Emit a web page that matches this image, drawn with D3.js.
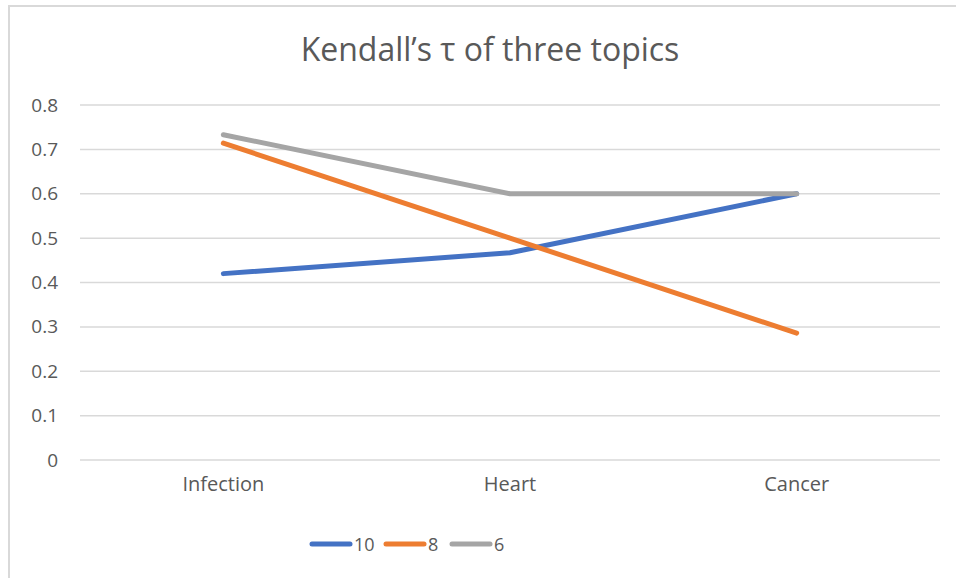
<!DOCTYPE html>
<html>
<head>
<meta charset="utf-8">
<script src="https://cdn.jsdelivr.net/npm/d3@7"></script>
<style>
  body { margin: 0; background: #fff; }
  text { font-family: "Open Sans", "Liberation Sans", sans-serif; fill: #595959; }
</style>
</head>
<body>
<svg id="chart" width="956" height="578"></svg>
<script>
// chart data
var categories = ["Infection", "Heart", "Cancer"];
var seriesNames = ["10", "8", "6"];
var seriesColors = ["#4472C4", "#ED7D31", "#A5A5A5"];
var values10 = [0.42, 0.467, 0.6];
var values8 = [0.714, 0.5, 0.286];
var values6 = [0.733, 0.6, 0.6];
var yTicks = [0, 0.1, 0.2, 0.3, 0.4, 0.5, 0.6, 0.7, 0.8];

(function() {
  var series = [values10, values8, values6].map(function(v, i) {
    return { name: seriesNames[i], color: seriesColors[i], values: v };
  });

  var svg = d3.select("#chart");

  // outer frame (only top/left visible in the crop)
  svg.append("rect")
    .attr("x", 9).attr("y", 6)
    .attr("width", 1000).attr("height", 1000)
    .attr("fill", "none")
    .attr("stroke", "#d9d9d9")
    .attr("stroke-width", 2);

  var plotLeft = 80, plotRight = 940, plotTop = 105, plotBottom = 460;

  var x = d3.scaleBand().domain(categories).range([plotLeft, plotRight]);
  var y = d3.scaleLinear().domain([0, 0.8]).range([plotBottom, plotTop]);

  // gridlines
  svg.append("g")
    .selectAll("line")
    .data(yTicks)
    .enter().append("line")
      .attr("x1", plotLeft).attr("x2", plotRight)
      .attr("y1", function(d) { return y(d); })
      .attr("y2", function(d) { return y(d); })
      .attr("stroke", "#d9d9d9")
      .attr("stroke-width", 1.5);

  // y axis labels
  var yAxis = d3.axisLeft(y).tickValues(yTicks).tickSize(0).tickPadding(0)
    .tickFormat(function(d) { return d === 0 ? "0" : d3.format(".1f")(d); });
  var yg = svg.append("g").attr("transform", "translate(58,0)").call(yAxis);
  yg.select(".domain").remove();
  yg.selectAll("text").attr("font-size", 19).attr("fill", "#595959")
    .style("font-family", "Open Sans, sans-serif");

  // x axis labels
  var xAxis = d3.axisBottom(x).tickSize(0).tickPadding(0);
  var xg = svg.append("g").attr("transform", "translate(0,477)").call(xAxis);
  xg.select(".domain").remove();
  xg.selectAll("text").attr("font-size", 20).attr("fill", "#595959")
    .style("font-family", "Open Sans, sans-serif");

  // lines
  var line = d3.line()
    .x(function(d, i) { return x(categories[i]) + x.bandwidth() / 2; })
    .y(function(d) { return y(d); });

  svg.append("g")
    .selectAll("path")
    .data(series)
    .enter().append("path")
      .attr("d", function(d) { return line(d.values); })
      .attr("fill", "none")
      .attr("stroke", function(d) { return d.color; })
      .attr("stroke-width", 5)
      .attr("stroke-linecap", "round")
      .attr("stroke-linejoin", "round");

  // title
  svg.append("text")
    .attr("x", 490).attr("y", 61)
    .attr("text-anchor", "middle")
    .attr("font-size", 32)
    .text("Kendall\u2019s \u03c4 of three topics");

  // legend
  var legendX = [312, 386, 452];
  var legend = svg.append("g")
    .selectAll("g")
    .data(series)
    .enter().append("g")
      .attr("transform", function(d, i) { return "translate(" + legendX[i] + ",544)"; });
  legend.append("line")
    .attr("x1", 0).attr("x2", 38)
    .attr("stroke", function(d) { return d.color; })
    .attr("stroke-width", 5)
    .attr("stroke-linecap", "round");
  legend.append("text")
    .attr("x", 42).attr("y", 7)
    .attr("font-size", 18)
    .text(function(d) { return d.name; });
})();
</script>
</body>
</html>
